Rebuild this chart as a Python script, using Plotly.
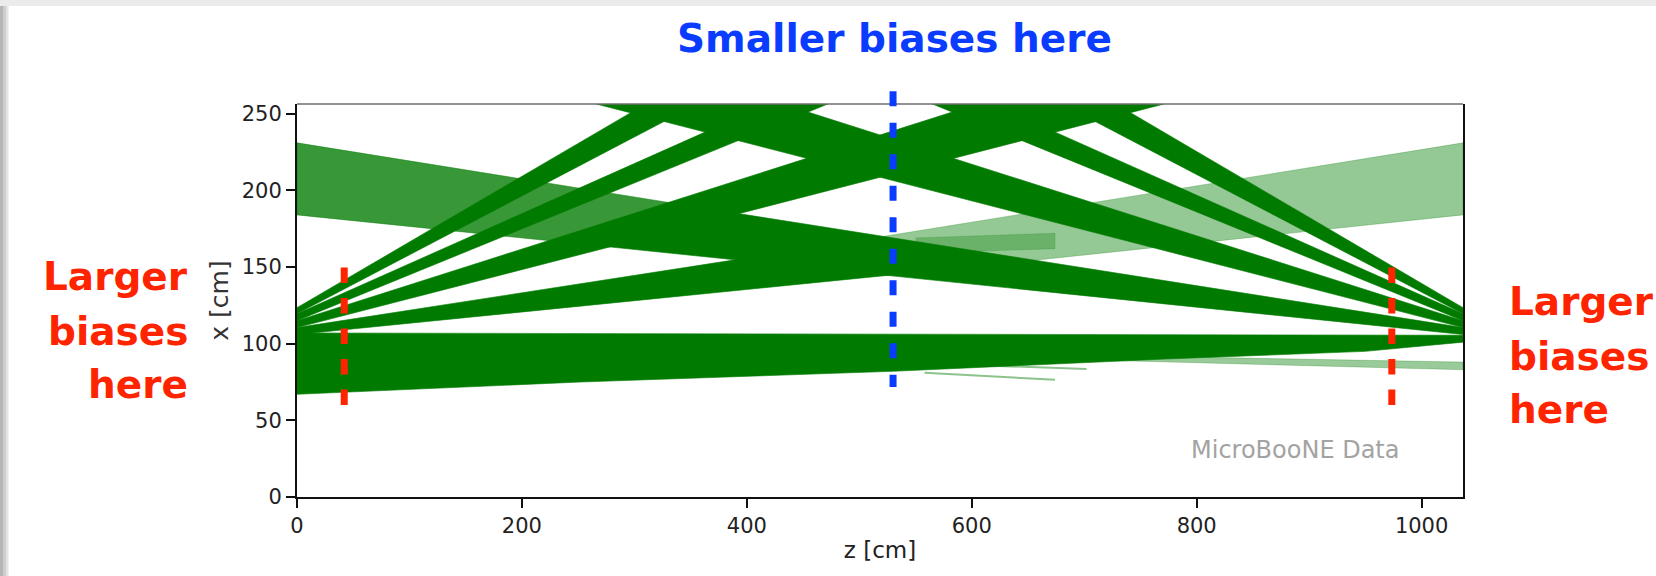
import plotly.graph_objects as go

# ---------------- data ----------------
Z_MAX = 1036.8   # detector length along z [cm]
X_MAX = 256.35   # drift length along x [cm]

x_tick_vals = [0, 200, 400, 600, 800, 1000]
y_tick_vals = [0, 50, 100, 150, 200, 250]

# laser track bundles, polygon outlines in (z, x) [cm]
# upstream laser (apex at z = 0)
LA_z = [0, 356, 310, 0];        LA_x = [119.5, X_MAX, X_MAX, 123.5]
LB_z = [0, 472, 419, 0];        LB_x = [115, X_MAX, X_MAX, 119.5]
LC_z = [0, 771, 605, 0];        LC_x = [110.5, X_MAX, X_MAX, 115]
LD_dense_z = [0, 598, 462.5, 0];  LD_dense_x = [106, 149.9, 163, 110.5]
LD_light_z = [598, 1036.8, 1036.8, 462.5]; LD_light_x = [149.9, 184, 231, 163]
LD_mid_z = [550, 674, 674, 550]; LD_mid_x = [159, 162, 172, 169]
# downstream laser (apex at z = Z_MAX)
RA_z = [1036.8, 680, 728, 1036.8]; RA_x = [119.5, X_MAX, X_MAX, 123.5]
RB_z = [1036.8, 565, 618, 1036.8]; RB_x = [115, X_MAX, X_MAX, 119.5]
RC_z = [1036.8, 266, 432, 1036.8]; RC_x = [110.5, X_MAX, X_MAX, 115]
RD_dense_z = [1036.8, 249, 359.4, 1036.8]; RD_dense_x = [106, 165.3, 188.7, 110.5]
RD_light_z = [249, 0, 0, 359.4];  RD_light_x = [165.3, 184, 231, 188.7]
# nearly horizontal bundle
E_z = [0, 1036.8, 1036.8, 950, 772, 530, 252, 0]
E_x = [107, 105.5, 101, 95, 90, 82, 75, 67]
E_faint_z = [700, 1036.8, 1036.8, 700]; E_faint_x = [92.5, 88, 83, 89.5]
# short faint tracks below the horizontal bundle
stub1_z = [542, 702]; stub1_x = [87.5, 83.5]
stub2_z = [558, 674]; stub2_x = [81, 76.4]

# annotation guide lines (z position, x extent) [cm]
blue_z = 530;  blue_x = [264.6, 71.8]
red_z = [42, 973.5]; red_x = [149.7, 59.4]

# ---------------- figure ----------------
GREEN = "0,123,0"
W, H = 1656, 576
L, R, T, B = 297, 193, 104, 79
PW, PH = W - L - R, H - T - B

def px(xp):
    return (xp - L) / PW

def py(yp):
    return (H - B - yp) / PH

def band(z, x, alpha):
    return go.Scatter(x=z, y=x, mode="lines", fill="toself",
                      fillcolor=f"rgba({GREEN},{alpha})",
                      line=dict(width=0.6, color=f"rgba({GREEN},{alpha})"),
                      hoverinfo="skip", showlegend=False)

fig = go.Figure()
for z, x, a in [
    (RD_light_z, RD_light_x, 0.78), (LD_light_z, LD_light_x, 0.42),
    (LD_mid_z, LD_mid_x, 0.28), (E_faint_z, E_faint_x, 0.4),
    (E_z, E_x, 1.0),
    (LA_z, LA_x, 1.0), (LB_z, LB_x, 1.0), (LC_z, LC_x, 1.0), (LD_dense_z, LD_dense_x, 1.0),
    (RA_z, RA_x, 1.0), (RB_z, RB_x, 1.0), (RC_z, RC_x, 1.0), (RD_dense_z, RD_dense_x, 1.0),
]:
    fig.add_trace(band(z, x, a))

for z, x in [(stub1_z, stub1_x), (stub2_z, stub2_x)]:
    fig.add_trace(go.Scatter(x=z, y=x, mode="lines",
                             line=dict(width=2, color=f"rgba({GREEN},0.45)"),
                             hoverinfo="skip", showlegend=False))

BLUE = "#0a3cff"
RED = "#ff2400"
shapes = []
# slide frame shading
shapes.append(dict(type="rect", xref="paper", yref="paper", x0=px(0), x1=px(W), y0=py(0), y1=py(6),
                   fillcolor="#ebebeb", line=dict(width=0), layer="above"))
for x0, x1, c in [(0, 3, "#b5b5b5"), (3, 6, "#cdcdcd"), (6, 8.5, "#e4e4e4")]:
    shapes.append(dict(type="rect", xref="paper", yref="paper", x0=px(x0), x1=px(x1), y0=py(6), y1=py(H),
                       fillcolor=c, line=dict(width=0), layer="above"))
# top frame line of the plot (lighter than the axes)
shapes.append(dict(type="line", xref="paper", yref="paper", x0=0, x1=1, y0=1, y1=1,
                   line=dict(color="#6e6e6e", width=1.6), layer="above"))
# dashed guide lines
shapes.append(dict(type="line", xref="paper", yref="paper",
                   x0=blue_z / Z_MAX, x1=blue_z / Z_MAX,
                   y0=blue_x[0] / X_MAX, y1=blue_x[1] / X_MAX,
                   line=dict(color=BLUE, width=7, dash="15px,16.5px")))
for rz in red_z:
    shapes.append(dict(type="line", xref="paper", yref="paper",
                       x0=rz / Z_MAX, x1=rz / Z_MAX,
                       y0=red_x[0] / X_MAX, y1=red_x[1] / X_MAX,
                       line=dict(color=RED, width=7, dash="15.5px,15px")))

ann_font = dict(family="DejaVu Sans", size=39)
annotations = [
    dict(text="<b>Smaller biases here</b>", x=px(894), y=py(39), xref="paper", yref="paper",
         xanchor="center", yanchor="middle", showarrow=False, font=dict(**ann_font, color=BLUE),
         borderpad=0, borderwidth=0),
    dict(text="MicroBooNE Data", x=px(1295), y=py(450), xref="paper", yref="paper",
         xanchor="center", yanchor="middle", showarrow=False,
         font=dict(family="DejaVu Sans", size=24, color="#a3a3a3"), borderpad=0, borderwidth=0),
]
for word, yc in zip(["Larger", "biases", "here"], [276.5, 331.5, 384.8]):
    annotations.append(dict(text=f"<b>{word}</b>", x=px(188), y=py(yc), xref="paper", yref="paper",
                            xanchor="right", yanchor="middle", showarrow=False,
                            font=dict(**ann_font, color=RED), borderpad=0, borderwidth=0))
for word, yc in zip(["Larger", "biases", "here"], [301.5, 356.5, 409.8]):
    annotations.append(dict(text=f"<b>{word}</b>", x=px(1509), y=py(yc), xref="paper", yref="paper",
                            xanchor="left", yanchor="middle", showarrow=False,
                            font=dict(**ann_font, color=RED), borderpad=0, borderwidth=0))

tick_font = dict(family="DejaVu Sans", size=21, color="#222222")
axis_common = dict(showline=True, linewidth=2, linecolor="#111111",
                   ticks="outside", ticklen=9, tickwidth=2, tickcolor="#111111",
                   showgrid=False, zeroline=False, tickfont=tick_font, automargin=False)

fig.update_layout(
    width=W, height=H,
    margin=dict(l=L, r=R, t=T, b=B),
    paper_bgcolor="white", plot_bgcolor="white",
    showlegend=False,
    shapes=shapes, annotations=annotations,
    xaxis=dict(range=[0, Z_MAX], tickvals=x_tick_vals, mirror=False,
               title=dict(text="z [cm]", font=dict(family="DejaVu Sans", size=23, color="#222222"),
                          standoff=5), **axis_common),
    yaxis=dict(range=[0, X_MAX], tickvals=y_tick_vals, mirror=True,
               title=dict(text="x [cm]", font=dict(family="DejaVu Sans", size=25, color="#333333"),
                          standoff=6), **axis_common),
)

fig.write_html("out.html")
